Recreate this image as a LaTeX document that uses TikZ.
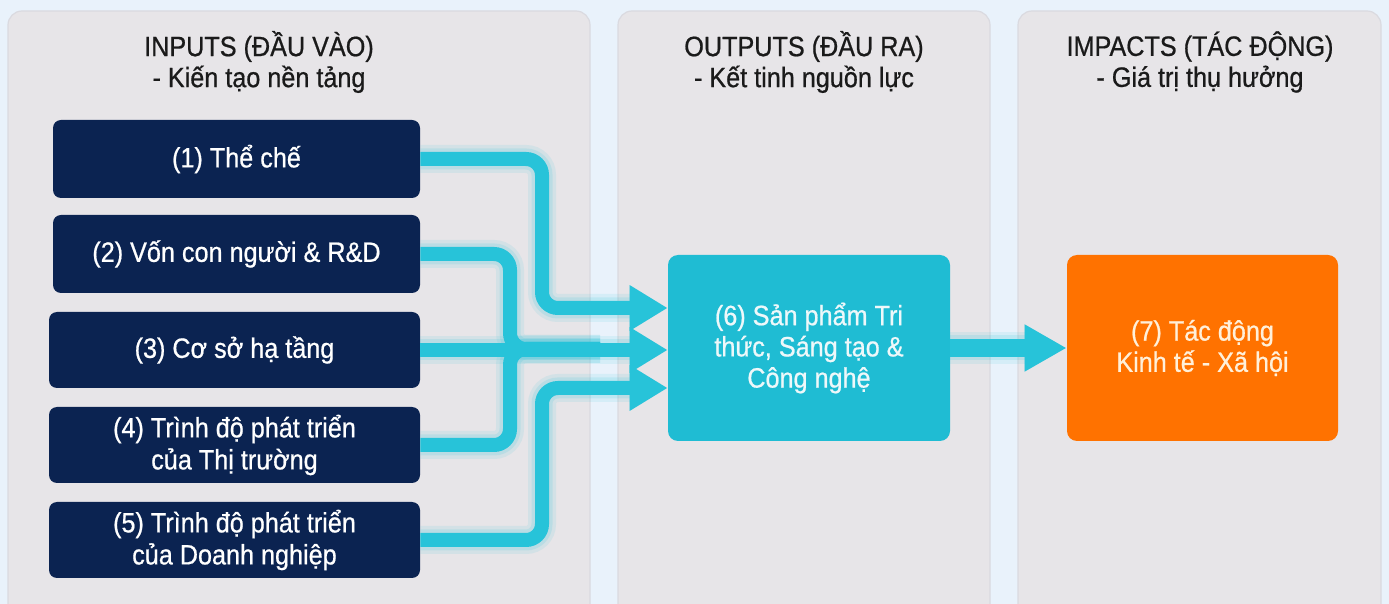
\documentclass[tikz,border=0pt]{standalone}
\usepackage{fontspec}
\setmainfont[FakeStretch=0.9,FakeBold=0.7]{Liberation Sans}
\usetikzlibrary{arrows.meta}
\definecolor{bgblue}{HTML}{E9F2FB}
\definecolor{panelfill}{HTML}{E7E5E8}
\definecolor{panelborder}{HTML}{DADAE0}
\definecolor{navy}{HTML}{0B2351}
\definecolor{cyanbox}{HTML}{1FBCD3}
\definecolor{flow}{HTML}{27C3D9}
\definecolor{orangebox}{HTML}{FF7200}
\definecolor{titletext}{HTML}{1A1A1A}
\definecolor{cyantext}{HTML}{EEF8FA}
\definecolor{orangetext}{HTML}{FFF0DA}
\begin{document}
\begin{tikzpicture}[x=0.5pt,y=-0.5pt,
  panelbox/.style={fill=panelfill, draw=panelborder, line width=0.6pt, rounded corners=7pt},
  titletxt/.style={align=center, text=titletext, inner sep=0pt, font=\fontsize{14}{15.5}\selectfont},
  inbox/.style={fill=navy, rounded corners=4pt, text=white, align=center, inner sep=0pt,
    font=\fontsize{14}{16}\selectfont},
  outbox/.style={fill=cyanbox, rounded corners=5pt, text=cyantext, align=center, inner sep=0pt,
    font=\fontsize{14}{15.6}\selectfont, minimum width=141pt, minimum height=93pt},
  impbox/.style={fill=orangebox, rounded corners=5pt, text=orangetext, align=center, inner sep=0pt,
    font=\fontsize{14}{15.6}\selectfont, minimum width=135.5pt, minimum height=93pt},
  flowline/.style={draw=flow, line width=7pt, rounded corners=8pt,
    preaction={draw=flow, line width=14pt, opacity=0.10},
    preaction={draw=flow, line width=10.5pt, opacity=0.14}},
  flowtip/.style={-{Triangle[length=19pt,width=21.5pt]}},
  bigflow/.style={draw=flow, line width=9pt,
    preaction={draw=flow, line width=16pt, opacity=0.10},
    preaction={draw=flow, line width=12.5pt, opacity=0.14},
    -{Triangle[length=21pt,width=22pt]}}
]
\useasboundingbox (0,0) rectangle (1389,604);
\fill[bgblue] (0,0) rectangle (1389,604);
\clip (0,0) rectangle (1389,604);

% panels
\draw[panelbox] (8,11) rectangle (590,640);
\draw[panelbox] (618,11) rectangle (990,640);
\draw[panelbox] (1018,11) rectangle (1381,640);

% titles
\node[titletxt] (t1) at (259,62) {INPUTS (ĐẦU VÀO)\\- Kiến tạo nền tảng};
\node[titletxt] (t2) at (804,62) {OUTPUTS (ĐẦU RA)\\- Kết tinh nguồn lực};
\node[titletxt] (t3) at (1200,62) {IMPACTS (TÁC ĐỘNG)\\- Giá trị thụ hưởng};

% input boxes
\node[inbox, minimum width=183.5pt, minimum height=39pt] (b1) at (236.5,159) {(1) Thể chế};
\node[inbox, minimum width=183.5pt, minimum height=39pt] (b2) at (236.5,254) {(2) Vốn con người \& R\&D};
\node[inbox, minimum width=185.5pt, minimum height=38pt] (b3) at (234.5,350) {(3) Cơ sở hạ tầng};
\node[inbox, minimum width=185.5pt, minimum height=38pt] (b4) at (234.5,445) {(4) Trình độ phát triển\\của Thị trường};
\node[inbox, minimum width=185.5pt, minimum height=38pt] (b5) at (234.5,540) {(5) Trình độ phát triển\\của Doanh nghiệp};

% output and impact
\node[outbox] (c6) at (809,348) {(6) Sản phẩm Tri\\thức, Sáng tạo \&\\Công nghệ};
\node[impbox] (o7) at (1202.5,348) {(7) Tác động\\Kinh tế - Xã hội};

% helper coordinates
\coordinate (v1) at (542,230);
\coordinate (v2) at (510,300);
\coordinate (m2) at (600,349);
\coordinate (v4) at (510,400);
\coordinate (m4) at (600,349);
\coordinate (v5) at (542,460);

% connectors
\draw[flowline] (b2.east) -| (v2) |- (m2);
\draw[flowline] (b4.east) -| (v4) |- (m4);
\draw[flowline, flowtip] (b1.east) -| (v1) |- ([yshift=20pt]c6.west);
\draw[flowline, flowtip] (b5.east) -| (v5) |- ([yshift=-20pt]c6.west);
\draw[flowline, flowtip] (b3.east) -- (b3.east -| c6.west);
\draw[bigflow] (c6.east) -- (o7.west);
\end{tikzpicture}
\end{document}
